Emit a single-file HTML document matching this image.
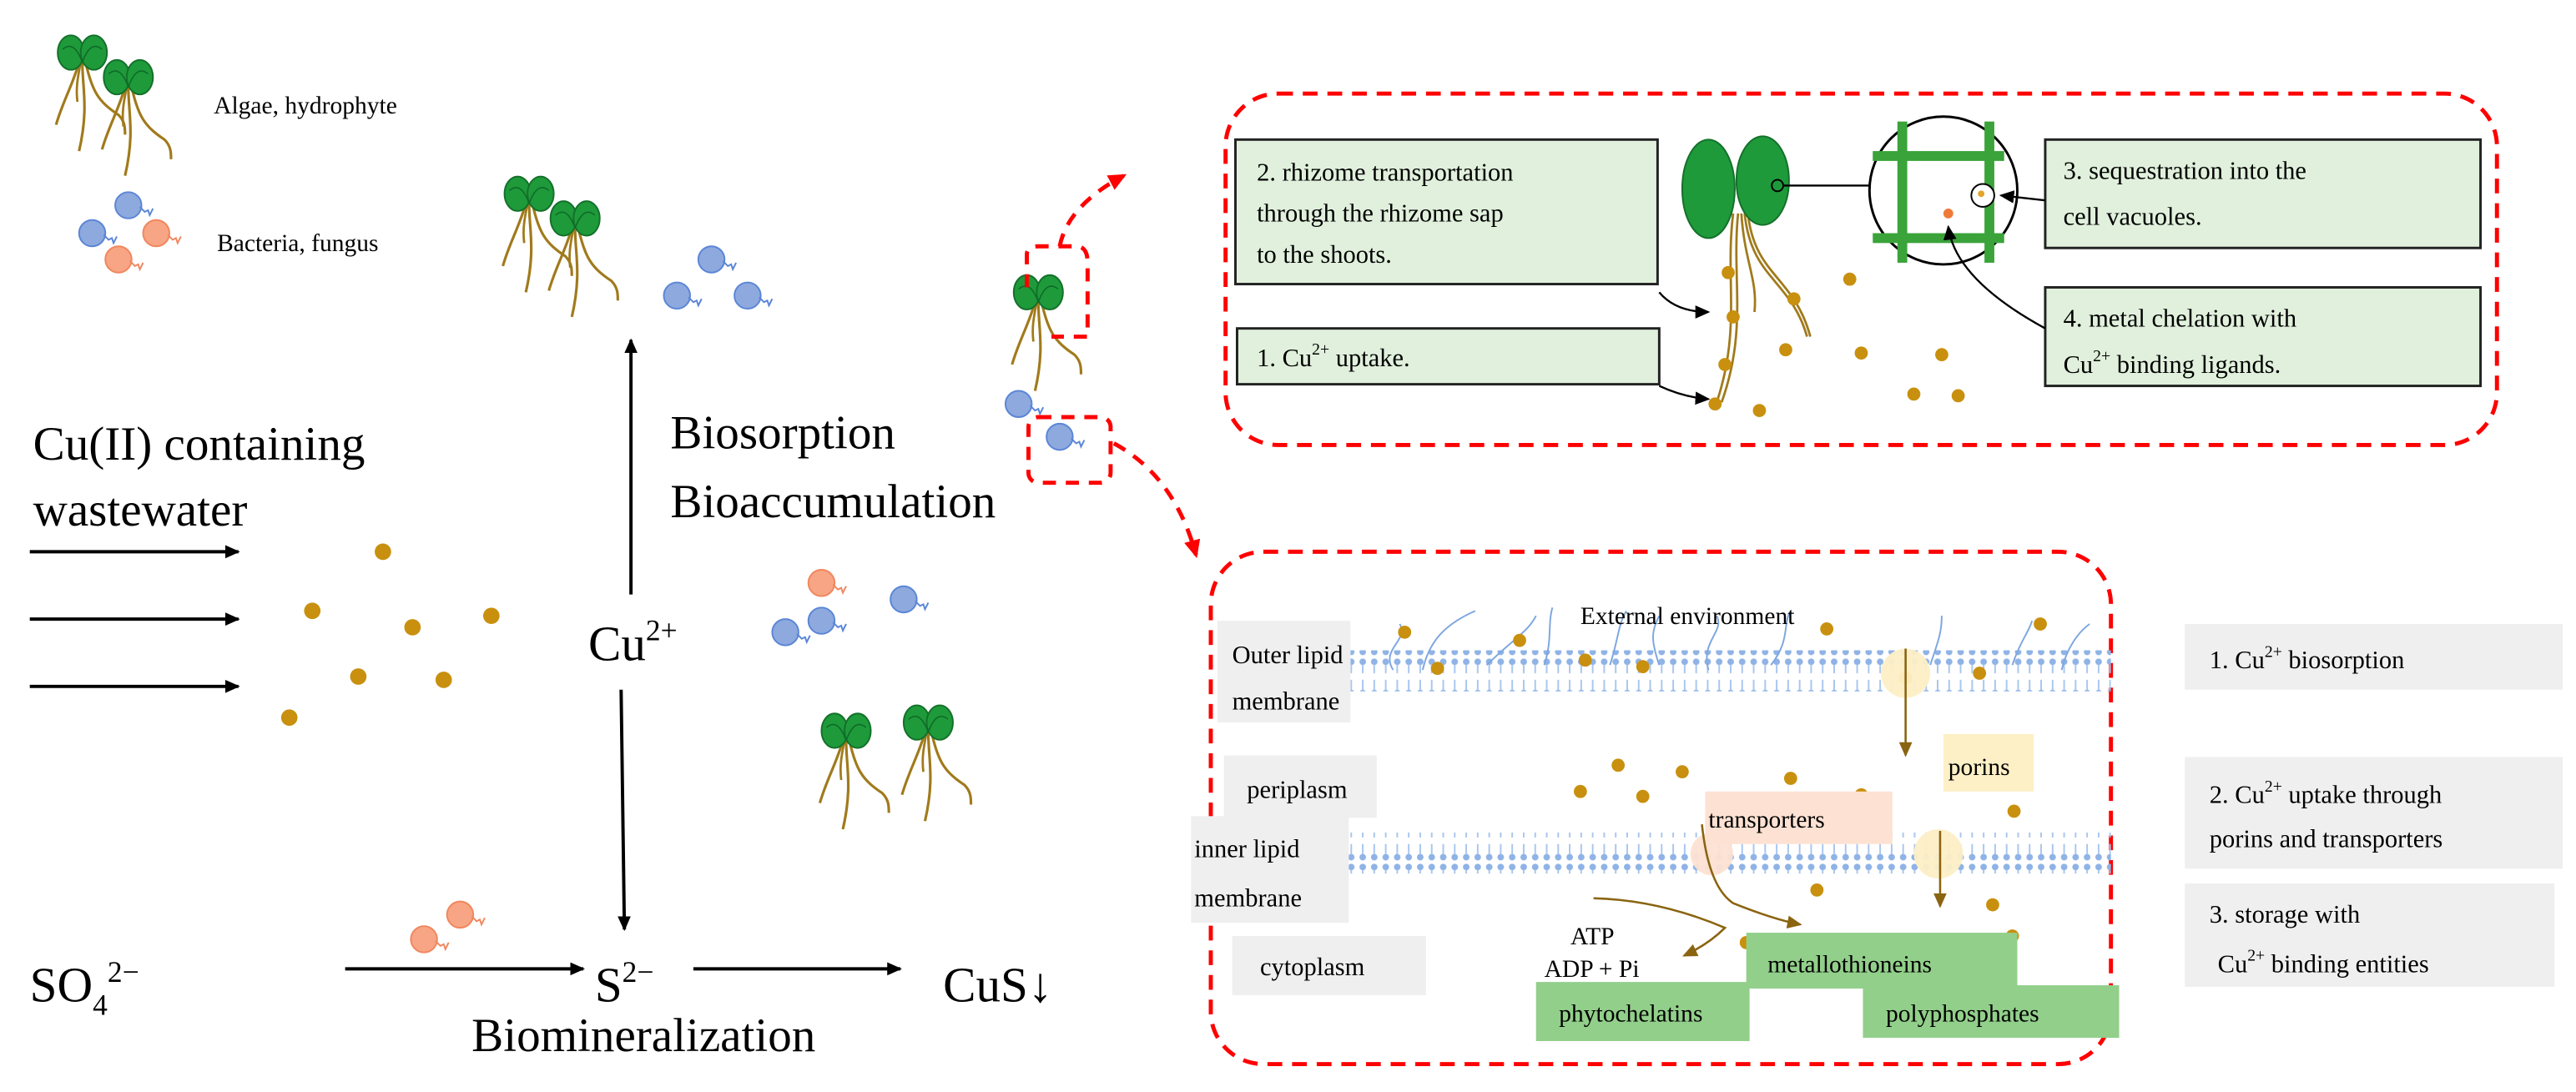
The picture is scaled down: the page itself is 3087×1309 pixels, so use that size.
<!DOCTYPE html>
<html><head><meta charset="utf-8"><style>
html,body{margin:0;padding:0;background:#fff;}
svg{display:block;}
text{font-family:"Liberation Serif",serif;fill:#000;}
</style></head><body>
<svg width="3087" height="1309" viewBox="0 0 1568 665" xmlns="http://www.w3.org/2000/svg">
<defs>
<g id="plant">
 <path d="M-2,6 C-6,20 -12,30 -16,44" stroke="#a07a1c" stroke-width="1.6" fill="none"/>
 <path d="M0,6 C0,22 4,34 -2,60" stroke="#a07a1c" stroke-width="1.6" fill="none"/>
 <path d="M2,6 C6,24 10,30 22,38 C26,42 26,46 26,50" stroke="#a07a1c" stroke-width="1.6" fill="none"/>
 <path d="M-1,6 C-3,16 -4,22 -3,30" stroke="#a07a1c" stroke-width="1.4" fill="none"/>
 <ellipse cx="-7" cy="0" rx="8" ry="10.5" fill="#1e9a3a" stroke="#14702a" stroke-width="1"/>
 <ellipse cx="7" cy="0" rx="8" ry="10.5" fill="#1e9a3a" stroke="#14702a" stroke-width="1"/>
 <path d="M-12,-2 Q-5,-8 0,6 M12,-2 Q5,-8 0,6" stroke="#0f6a28" stroke-width="0.8" fill="none"/>
</g>
<g id="bac">
 <circle cx="0" cy="0" r="8" fill="#8ea9de" stroke="#5b86d6" stroke-width="1"/>
 <path d="M7,1 l3,3 l2,-1 l1,3 l2,-4" stroke="#5b86d6" stroke-width="1" fill="none"/>
</g>
<g id="fun">
 <circle cx="0" cy="0" r="8" fill="#f7a584" stroke="#f0875f" stroke-width="1"/>
 <path d="M7,1 l3,3 l2,-1 l1,3 l2,-4" stroke="#f0875f" stroke-width="1" fill="none"/>
</g>
<g id="plant2"><use href="#plant"/><use href="#plant" x="28" y="15"/></g>
<marker id="ah" markerWidth="10" markerHeight="10" refX="8" refY="4" orient="auto" markerUnits="userSpaceOnUse"><path d="M0,0 L9,4 L0,8 z" fill="#000"/></marker>
<marker id="ahr" markerWidth="12" markerHeight="12" refX="9" refY="5" orient="auto" markerUnits="userSpaceOnUse"><path d="M0,0 L11,5 L0,10 z" fill="#f00"/></marker>
<marker id="ahb" markerWidth="10" markerHeight="10" refX="8" refY="4" orient="auto" markerUnits="userSpaceOnUse"><path d="M0,0 L9,4 L0,8 z" fill="#8a6410"/></marker>
<pattern id="lip" width="7" height="25" patternUnits="userSpaceOnUse">
 <circle cx="3.5" cy="3" r="2" fill="#8fb3e6"/><line x1="3.5" y1="5" x2="3.5" y2="10" stroke="#a9c6ee" stroke-width="1"/>
 <line x1="3.5" y1="14" x2="3.5" y2="20" stroke="#a9c6ee" stroke-width="1"/><circle cx="3.5" cy="22" r="2" fill="#8fb3e6"/>
</pattern>
</defs>

<!-- legend -->
<use href="#plant2" x="50" y="32"/>
<text x="130" y="69" font-size="15">Algae,  hydrophyte</text>
<use href="#bac" x="78" y="125"/><use href="#bac" x="56" y="142"/><use href="#fun" x="95" y="142"/><use href="#fun" x="72" y="158"/>
<text x="132" y="153" font-size="15">Bacteria,  fungus</text>

<use href="#plant2" x="322" y="118"/>
<use href="#bac" x="433" y="158"/><use href="#bac" x="412" y="180"/><use href="#bac" x="455" y="180"/>

<!-- left -->
<text x="20" y="280" font-size="29">Cu(II) containing</text>
<text x="20" y="320" font-size="29">wastewater</text>
<line x1="18" y1="336" x2="145" y2="336" stroke="#000" stroke-width="2" marker-end="url(#ah)"/>
<line x1="18" y1="377" x2="145" y2="377" stroke="#000" stroke-width="2" marker-end="url(#ah)"/>
<line x1="18" y1="418" x2="145" y2="418" stroke="#000" stroke-width="2" marker-end="url(#ah)"/>
<g fill="#c8900e">
<circle cx="233" cy="336" r="5"/><circle cx="190" cy="372" r="5"/><circle cx="251" cy="382" r="5"/><circle cx="299" cy="375" r="5"/><circle cx="218" cy="412" r="5"/><circle cx="270" cy="414" r="5"/><circle cx="176" cy="437" r="5"/>
</g>
<line x1="384" y1="362" x2="384" y2="207" stroke="#000" stroke-width="2" marker-end="url(#ah)"/>
<text x="358" y="402" font-size="30">Cu<tspan font-size="18" dy="-12">2+</tspan></text>
<line x1="378" y1="420" x2="380" y2="566" stroke="#000" stroke-width="2" marker-end="url(#ah)"/>
<text x="408" y="273" font-size="29">Biosorption</text>
<text x="408" y="315" font-size="29">Bioaccumulation</text>
<use href="#fun" x="500" y="355"/><use href="#bac" x="550" y="365"/><use href="#bac" x="478" y="385"/><use href="#bac" x="500" y="378"/>
<use href="#plant" x="515" y="445"/><use href="#plant" x="565" y="440"/>
<text x="18" y="610" font-size="30">SO<tspan font-size="18" dy="8">4</tspan><tspan font-size="18" dy="-20">2−</tspan></text>
<use href="#fun" x="280" y="557"/><use href="#fun" x="258" y="572"/>
<line x1="210" y1="590" x2="355" y2="590" stroke="#000" stroke-width="2" marker-end="url(#ah)"/>
<text x="362" y="610" font-size="30">S<tspan font-size="18" dy="-12">2−</tspan></text>
<line x1="422" y1="590" x2="548" y2="590" stroke="#000" stroke-width="2" marker-end="url(#ah)"/>
<text x="574" y="610" font-size="30">CuS↓</text>
<text x="287" y="640" font-size="29">Biomineralization</text>

<!-- small dashed boxes and arrows -->
<use href="#plant" x="632" y="178"/>
<path d="M625,175 L625,155 Q625,150 632,150 L655,150 Q662,150 662,160 L662,195 L662,205 L640,205" stroke="#f00" stroke-width="2.5" stroke-dasharray="8,6" fill="none"/>
<path d="M645,150 Q650,125 684,107" stroke="#f00" stroke-width="2.5" stroke-dasharray="8,6" fill="none" marker-end="url(#ahr)"/>
<use href="#bac" x="620" y="246"/><use href="#bac" x="645" y="266"/>
<rect x="626" y="254" width="50" height="40" rx="6" stroke="#f00" stroke-width="2.5" stroke-dasharray="8,6" fill="none"/>
<path d="M678,270 Q715,290 728,338" stroke="#f00" stroke-width="2.5" stroke-dasharray="8,6" fill="none" marker-end="url(#ahr)"/>

<!-- top right box -->
<rect x="746" y="57" width="774" height="214" rx="32" stroke="#f00" stroke-width="2.5" stroke-dasharray="9,6" fill="none"/>
<g font-size="15.5">
<rect x="752" y="85" width="257" height="88" fill="#e0f0dc" stroke="#222" stroke-width="1.5"/>
<text x="765" y="110">2.  rhizome  transportation</text>
<text x="765" y="135">through  the  rhizome  sap</text>
<text x="765" y="160">to  the  shoots.</text>
<rect x="753" y="200" width="257" height="34" fill="#e0f0dc" stroke="#222" stroke-width="1.5"/>
<text x="765" y="223">1.  Cu<tspan font-size="10" dy="-7">2+</tspan><tspan dy="7"> uptake.</tspan></text>
<rect x="1245" y="85" width="265" height="66" fill="#e0f0dc" stroke="#222" stroke-width="1.5"/>
<text x="1256" y="109">3.  sequestration  into  the</text>
<text x="1256" y="137">cell  vacuoles.</text>
<rect x="1245" y="175" width="265" height="60" fill="#e0f0dc" stroke="#222" stroke-width="1.5"/>
<text x="1256" y="199">4.  metal  chelation  with</text>
<text x="1256" y="227">Cu<tspan font-size="10" dy="-7">2+</tspan><tspan dy="7"> binding  ligands.</tspan></text>
</g>
<g stroke="#a07a1c" stroke-width="1.4" fill="none">
<path d="M1055,130 C1050,170 1060,200 1045,245"/><path d="M1058,130 C1054,170 1064,200 1048,245"/>
<path d="M1060,130 C1062,160 1070,170 1068,190"/>
<path d="M1062,130 C1066,170 1090,170 1100,205"/><path d="M1064,130 C1068,168 1092,168 1102,205"/>
</g>
<ellipse cx="1040" cy="115" rx="16" ry="30" fill="#1e9a3a" stroke="#14702a"/>
<ellipse cx="1073" cy="110" rx="16" ry="27" fill="#1e9a3a" stroke="#14702a"/>
<circle cx="1082" cy="113" r="3.5" fill="none" stroke="#000"/>
<line x1="1086" y1="113" x2="1138" y2="113" stroke="#000" stroke-width="1.2"/>
<circle cx="1183" cy="116" r="45" fill="#fff" stroke="#000" stroke-width="1.5"/>
<g fill="#3aa33a"><rect x="1155" y="74" width="6" height="86"/><rect x="1208" y="74" width="6" height="86"/><rect x="1140" y="92" width="80" height="6"/><rect x="1140" y="142" width="80" height="6"/></g>
<circle cx="1207" cy="119" r="7" fill="#fff" stroke="#000"/><circle cx="1206" cy="118" r="2" fill="#e5a52a"/>
<circle cx="1186" cy="130" r="3" fill="#f07a3a"/>
<line x1="1245" y1="122" x2="1218" y2="119" stroke="#000" stroke-width="1.2" marker-end="url(#ah)"/>
<path d="M1245,200 Q1190,170 1186,138" stroke="#000" stroke-width="1.2" fill="none" marker-end="url(#ah)"/>
<path d="M1010,178 Q1020,190 1040,190" stroke="#000" stroke-width="1.2" fill="none" marker-end="url(#ah)"/>
<path d="M1010,235 Q1025,242 1040,243" stroke="#000" stroke-width="1.2" fill="none" marker-end="url(#ah)"/>
<g fill="#c8900e">
<circle cx="1052" cy="166" r="4"/><circle cx="1092" cy="182" r="4"/><circle cx="1126" cy="170" r="4"/><circle cx="1055" cy="193" r="4"/>
<circle cx="1050" cy="222" r="4"/><circle cx="1087" cy="213" r="4"/><circle cx="1133" cy="215" r="4"/><circle cx="1182" cy="216" r="4"/>
<circle cx="1044" cy="246" r="4"/><circle cx="1071" cy="250" r="4"/><circle cx="1165" cy="240" r="4"/><circle cx="1192" cy="241" r="4"/>
</g>

<!-- bottom right box -->
<rect x="737" y="336" width="548" height="312" rx="32" stroke="#f00" stroke-width="2.5" stroke-dasharray="9,6" fill="none"/>
<rect x="822" y="396" width="463" height="25" fill="url(#lip)"/>
<rect x="820" y="507" width="465" height="25" fill="url(#lip)"/>
<g stroke="#7ea7e0" stroke-width="1" fill="none">
<path d="M848,408 C840,395 858,390 852,380"/><path d="M866,408 C870,390 880,380 898,372"/><path d="M905,405 C920,390 930,385 935,375"/><path d="M940,405 C945,390 942,380 945,370"/><path d="M980,405 C985,390 985,380 990,372"/><path d="M1010,405 C1005,390 1005,385 1010,375"/><path d="M1040,408 C1035,390 1050,385 1045,375"/><path d="M1078,405 C1090,390 1085,380 1090,372"/><path d="M1175,405 C1180,390 1182,385 1182,375"/><path d="M1225,405 C1230,390 1235,385 1237,378"/><path d="M1255,408 C1258,395 1265,385 1272,380"/>
</g>
<g fill="#c8900e">
<circle cx="855" cy="385" r="4"/><circle cx="875" cy="407" r="4"/><circle cx="925" cy="390" r="4"/><circle cx="965" cy="402" r="4"/><circle cx="1000" cy="406" r="4"/><circle cx="1112" cy="383" r="4"/><circle cx="1160" cy="413" r="4"/><circle cx="1205" cy="410" r="4"/><circle cx="1242" cy="380" r="4"/>
<circle cx="985" cy="466" r="4"/><circle cx="962" cy="482" r="4"/><circle cx="1024" cy="470" r="4"/><circle cx="1000" cy="485" r="4"/><circle cx="1090" cy="474" r="4"/><circle cx="1133" cy="484" r="4"/><circle cx="1226" cy="494" r="4"/>
<circle cx="1106" cy="542" r="4"/><circle cx="1213" cy="551" r="4"/><circle cx="1225" cy="570" r="4"/><circle cx="1063" cy="574" r="4"/>
</g>
<circle cx="1160" cy="410" r="15" fill="#fdefc6" opacity="0.95"/>
<circle cx="1180" cy="520" r="15" fill="#fdefc6" opacity="0.95"/>
<circle cx="1042" cy="520" r="13" fill="#fde2d3" opacity="0.95"/>
<rect x="1183" y="447" width="55" height="35" fill="#fdefc6"/>
<rect x="1038" y="482" width="114" height="32" fill="#fde2d3"/>
<line x1="1160" y1="395" x2="1160" y2="460" stroke="#8a6410" stroke-width="1.3" marker-end="url(#ahb)"/>
<line x1="1181" y1="506" x2="1181" y2="552" stroke="#8a6410" stroke-width="1.3" marker-end="url(#ahb)"/>
<path d="M1036,502 Q1040,540 1055,550 Q1080,560 1096,563" stroke="#8a6410" stroke-width="1.3" fill="none" marker-end="url(#ahb)"/>
<path d="M970,547 Q1010,548 1050,565 Q1040,575 1025,582" stroke="#8a6410" stroke-width="1.3" fill="none" marker-end="url(#ahb)"/>
<g font-size="15">
<text x="962" y="380">External  environment</text>
<text x="1186" y="472">porins</text>
<text x="1040" y="504">transporters</text>
<text x="956" y="575">ATP</text>
<text x="940" y="595">ADP + Pi</text>
</g>
<rect x="1063" y="568" width="165" height="34" fill="#92cf8a"/>
<rect x="935" y="598" width="130" height="36" fill="#92cf8a"/>
<rect x="1134" y="600" width="156" height="32" fill="#92cf8a"/>
<g font-size="15">
<text x="1076" y="592">metallothioneins</text>
<text x="949" y="622">phytochelatins</text>
<text x="1148" y="622">polyphosphates</text>
</g>
<g fill="#efefef">
<rect x="741" y="378" width="81" height="62"/>
<rect x="745" y="460" width="93" height="38"/>
<rect x="725" y="497" width="96" height="65"/>
<rect x="750" y="570" width="118" height="36"/>
<rect x="1330" y="380" width="230" height="40"/>
<rect x="1330" y="461" width="230" height="68"/>
<rect x="1330" y="538" width="225" height="63"/>
</g>
<g font-size="15.5">
<text x="750" y="404">Outer lipid</text>
<text x="750" y="432">membrane</text>
<text x="759" y="486">periplasm</text>
<text x="727" y="522">inner  lipid</text>
<text x="727" y="552">membrane</text>
<text x="767" y="594">cytoplasm</text>
<text x="1345" y="407">1.  Cu<tspan font-size="10" dy="-7">2+</tspan><tspan dy="7"> biosorption</tspan></text>
<text x="1345" y="489">2.  Cu<tspan font-size="10" dy="-7">2+</tspan><tspan dy="7"> uptake  through</tspan></text>
<text x="1345" y="516">porins  and  transporters</text>
<text x="1345" y="562">3.  storage  with</text>
<text x="1350" y="592">Cu<tspan font-size="10" dy="-7">2+</tspan><tspan dy="7"> binding  entities</tspan></text>
</g>
</svg>
</body></html>
